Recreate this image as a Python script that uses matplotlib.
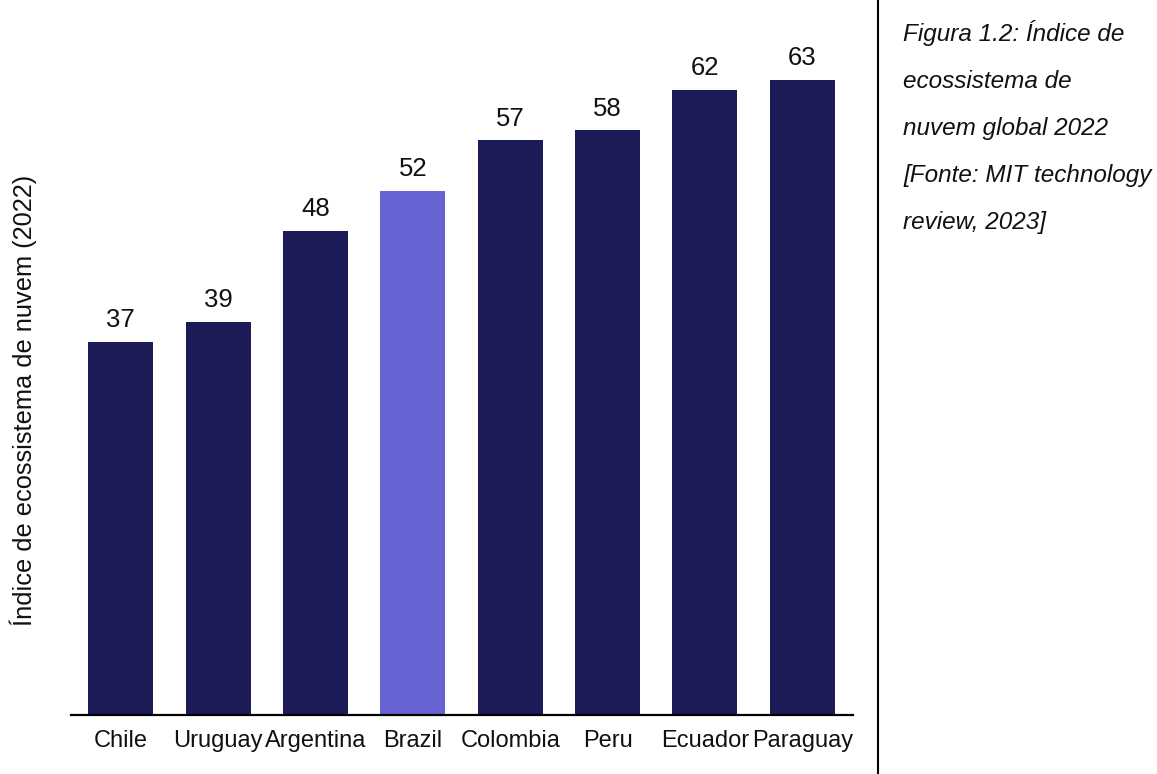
import matplotlib
matplotlib.use("Agg")
import matplotlib.pyplot as plt
from matplotlib.lines import Line2D

countries = ["Chile", "Uruguay", "Argentina", "Brazil", "Colombia", "Peru", "Ecuador", "Paraguay"]
values = [37, 39, 48, 52, 57, 58, 62, 63]
highlight = "Brazil"
ylabel = "Índice de ecossistema de nuvem (2022)"
caption_lines = ["Figura 1.2: Índice de", "ecossistema de", "nuvem global 2022",
                 "[Fonte: MIT technology", "review, 2023]"]

NAVY = "#1c1a57"
PURPLE = "#6763d3"

W, H = 1157, 774
fig = plt.figure(figsize=(W / 100, H / 100), dpi=100)
ax = fig.add_axes([71 / W, 1 - 715 / H, (853 - 71) / W, 705.6 / H])

colors = [PURPLE if c == highlight else NAVY for c in countries]
x = list(range(len(countries)))
bars = ax.bar(x, values, width=0.667, color=colors, zorder=2)
for xi, v in zip(x, values):
    ax.annotate(str(v), (xi, v), xytext=(0, 7), textcoords="offset points",
                ha="center", va="bottom", fontsize=18.5, family="Liberation Sans",
                color="#111111")

ax.set_xlim(-0.51, 7.52)
ax.set_ylim(0, 70)
ax.set_xticks(x)
ax.set_xticklabels(countries, fontsize=17, family="Liberation Sans", color="#111111")
ax.tick_params(axis="x", length=0, pad=11)
ax.set_yticks([])
for s in ["top", "right", "left"]:
    ax.spines[s].set_visible(False)
ax.spines["bottom"].set_linewidth(1.6)
ax.spines["bottom"].set_color("black")
ax.spines["bottom"].set_zorder(3)

fig.text(23 / W, 1 - 400 / H, ylabel, rotation=90, ha="center", va="center",
         fontsize=18.3, family="Liberation Sans", color="#111111")

fig.add_artist(Line2D([878 / W, 878 / W], [0, 1], transform=fig.transFigure,
                      color="black", linewidth=1.5))

for i, line in enumerate(caption_lines):
    fig.text(903 / W, 1 - (41 + 47 * i) / H, line, ha="left", va="baseline",
             fontsize=17.5, family="Liberation Sans", style="italic", color="#111111")

fig.savefig("out.png", dpi=100)
